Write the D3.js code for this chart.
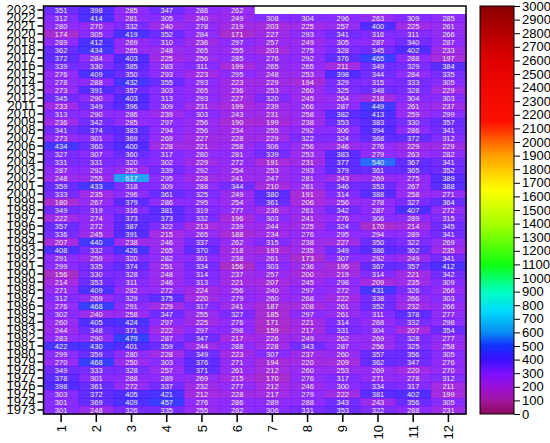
<!DOCTYPE html>
<html>
<head>
<meta charset="utf-8">
<title>Monthly heatmap</title>
<script src="https://d3js.org/d3.v7.min.js"></script>
<style>
  body { margin: 0; background: #fff; }
  text { font-family: "Liberation Sans", Arial, sans-serif; }
</style>
</head>
<body>
<div id="chart"></div>
<script>

const width = 550;
const height = 443;

// months along x
const months = ["1", "2", "3", "4", "5", "6", "7", "8", "9", "10", "11", "12"];

// years along y, top to bottom
const years = ["2023", "2022", "2021", "2020", "2019", "2018", "2017", "2016", "2015", "2014",
  "2013", "2012", "2011", "2010", "2009", "2008", "2007", "2006", "2005", "2004",
  "2003", "2002", "2001", "2000", "1999", "1998", "1997", "1996", "1995", "1994",
  "1993", "1992", "1991", "1990", "1989", "1988", "1987", "1986", "1985", "1984",
  "1983", "1982", "1981", "1980", "1979", "1978", "1977", "1976", "1975", "1974", "1973"];

// one row per year, same order as years
const values = [
  [351, 398, 285, 347, 286, 262, null, null, null, null, null, null],
  [312, 414, 281, 305, 240, 249, 308, 304, 296, 263, 309, 285],
  [280, 270, 332, 240, 278, 219, 203, 225, 257, 400, 225, 261],
  [174, 305, 419, 352, 284, 171, 227, 293, 341, 316, 311, 266],
  [289, 412, 269, 310, 236, 297, 257, 249, 305, 287, 340, 287],
  [362, 434, 265, 248, 265, 255, 203, 275, 328, 345, 402, 233],
  [372, 284, 403, 225, 256, 285, 276, 292, 376, 465, 288, 197],
  [339, 330, 385, 283, 311, 199, 265, 265, 211, 349, 329, 384],
  [276, 409, 350, 293, 223, 295, 248, 253, 398, 344, 284, 335],
  [278, 288, 432, 355, 293, 223, 229, 194, 329, 315, 333, 305],
  [273, 391, 357, 303, 265, 236, 253, 260, 325, 348, 328, 229],
  [345, 290, 403, 313, 293, 227, 320, 245, 264, 218, 304, 303],
  [233, 349, 396, 309, 231, 199, 239, 266, 287, 449, 261, 237],
  [313, 290, 286, 239, 303, 243, 231, 258, 382, 413, 259, 299],
  [236, 342, 285, 297, 256, 190, 199, 238, 353, 383, 330, 357],
  [341, 374, 383, 294, 256, 234, 255, 292, 306, 394, 286, 341],
  [273, 301, 369, 269, 227, 228, 229, 322, 324, 368, 372, 312],
  [434, 360, 400, 228, 221, 258, 306, 256, 246, 276, 229, 229],
  [327, 307, 360, 317, 280, 281, 339, 253, 383, 279, 263, 282],
  [331, 331, 320, 302, 229, 272, 191, 231, 377, 540, 367, 341],
  [287, 292, 252, 339, 292, 254, 253, 293, 379, 361, 365, 352],
  [248, 255, 617, 295, 228, 241, 247, 281, 243, 269, 275, 389],
  [359, 433, 318, 309, 288, 344, 210, 261, 346, 353, 267, 388],
  [333, 235, 296, 361, 325, 249, 380, 191, 314, 388, 258, 271],
  [180, 267, 379, 286, 295, 254, 361, 206, 256, 278, 327, 364],
  [349, 319, 316, 381, 319, 277, 236, 261, 342, 287, 407, 272],
  [222, 274, 373, 373, 332, 196, 303, 241, 276, 306, 289, 315],
  [357, 272, 387, 322, 213, 239, 244, 225, 324, 170, 214, 345],
  [336, 245, 391, 215, 265, 188, 234, 276, 295, 294, 289, 341],
  [207, 440, 238, 246, 337, 262, 315, 238, 227, 350, 322, 269],
  [408, 332, 426, 265, 370, 218, 193, 235, 349, 386, 362, 235],
  [291, 259, 320, 282, 301, 238, 261, 173, 307, 292, 249, 341],
  [299, 335, 374, 251, 334, 156, 303, 236, 195, 367, 357, 412],
  [156, 330, 328, 248, 314, 237, 257, 200, 219, 314, 221, 342],
  [214, 353, 311, 246, 313, 221, 207, 245, 298, 209, 235, 309],
  [271, 409, 282, 272, 224, 256, 240, 297, 272, 431, 326, 266],
  [312, 269, 329, 375, 220, 279, 260, 268, 222, 338, 266, 303],
  [276, 468, 291, 229, 317, 241, 187, 208, 261, 352, 232, 266],
  [302, 240, 258, 347, 255, 327, 185, 297, 261, 311, 378, 277],
  [260, 405, 424, 297, 225, 276, 171, 221, 314, 268, 332, 298],
  [244, 348, 371, 222, 297, 298, 159, 217, 331, 304, 207, 354],
  [283, 290, 479, 287, 347, 217, 226, 249, 262, 269, 328, 277],
  [422, 430, 401, 359, 244, 288, 228, 343, 287, 256, 325, 258],
  [299, 359, 280, 228, 349, 223, 307, 237, 260, 357, 356, 305],
  [270, 468, 250, 303, 376, 271, 194, 220, 209, 362, 347, 276],
  [349, 333, 328, 257, 371, 261, 212, 260, 253, 269, 220, 270],
  [378, 301, 288, 289, 269, 215, 170, 276, 317, 271, 278, 312],
  [398, 361, 272, 337, 232, 277, 212, 246, 300, 334, 317, 211],
  [303, 372, 405, 421, 212, 228, 217, 279, 222, 381, 402, 199],
  [301, 369, 409, 457, 276, 286, 289, 288, 343, 243, 356, 305],
  [301, 248, 326, 335, 255, 282, 306, 331, 353, 322, 288, 231]
];

// colour bar ticks
const barTicks = [0, 100, 200, 300, 400, 500, 600, 700, 800, 900, 1000, 1100, 1200, 1300, 1400,
  1500, 1600, 1700, 1800, 1900, 2000, 2100, 2200, 2300, 2400, 2500, 2600, 2700, 2800, 2900, 3000];

const colorStops = [0, 100, 200, 300, 400, 500, 600, 750, 900, 1100, 1400, 1650, 1900, 2150, 2600, 3000];
const colorRange = ["#8a0a5c", "#a1169f", "#9a10d8", "#7a10ff", "#3a10ff", "#1030ff", "#0a8cf0",
  "#00d8ff", "#00ffc0", "#10ff10", "#a8ff00", "#ffff00", "#ffa000", "#ff1000", "#e00000", "#8a0000"];

const color = d3.scaleLinear().domain(colorStops).range(colorRange);

const plot = { left: 43.5, right: 466, top: 6, bottom: 414 };

const svg = d3.select("#chart").append("svg").attr("width", width).attr("height", height);

const x = d3.scaleBand().domain(months).range([plot.left, plot.right]);
const y = d3.scaleBand().domain(years).range([plot.top, plot.bottom]);

const cells = [];
values.forEach((row, i) => row.forEach((v, j) => cells.push({ year: years[i], month: months[j], v: v })));

svg.append("g")
  .selectAll("rect")
  .data(cells)
  .enter().append("rect")
  .attr("x", d => x(d.month))
  .attr("y", d => y(d.year))
  .attr("width", x.bandwidth() + 0.5)
  .attr("height", y.bandwidth() + 0.5)
  .attr("fill", d => d.v == null ? "#fff" : color(d.v))
  .attr("fill-opacity", 0.88);

svg.append("g")
  .selectAll("text")
  .data(cells.filter(d => d.v != null))
  .enter().append("text")
  .attr("x", d => x(d.month) + x.bandwidth() / 2)
  .attr("y", d => y(d.year) + y.bandwidth() / 2)
  .attr("dy", "0.36em")
  .attr("text-anchor", "middle")
  .attr("font-size", "7.5px")
  .attr("fill", "#eee")
  .text(d => d.v);

// frame
svg.append("rect")
  .attr("x", plot.left).attr("y", plot.top)
  .attr("width", plot.right - plot.left).attr("height", plot.bottom - plot.top)
  .attr("fill", "none").attr("stroke", "#000").attr("stroke-width", 1.5);

// x axis
const xAxis = svg.append("g")
  .attr("transform", `translate(0,${plot.bottom})`)
  .call(d3.axisBottom(x).tickSize(8).tickPadding(3));
xAxis.select(".domain").remove();
xAxis.selectAll("line").attr("stroke-width", 1.5);
xAxis.selectAll("text")
  .attr("font-size", "13px")
  .attr("fill", "#000")
  .attr("transform", "rotate(-90)")
  .attr("text-anchor", "end")
  .attr("x", -11)
  .attr("y", 0)
  .attr("dy", "0.36em");

// y axis
const yAxis = svg.append("g")
  .attr("transform", `translate(${plot.left},0)`)
  .call(d3.axisLeft(y).tickSize(6).tickPadding(2));
yAxis.select(".domain").remove();
yAxis.selectAll("line").attr("stroke-width", 1.5);
yAxis.selectAll("text").attr("font-size", "13px").attr("fill", "#000");

// colour bar
const bar = { left: 480, right: 514, top: 6, bottom: 414 };
const cb = d3.scaleLinear().domain([0, 3000]).range([bar.bottom, bar.top]);

const grad = svg.append("defs").append("linearGradient")
  .attr("id", "cbar").attr("x1", 0).attr("y1", 1).attr("x2", 0).attr("y2", 0);
colorStops.forEach(s => {
  grad.append("stop").attr("offset", s / 3000).attr("stop-color", color(s));
});

svg.append("rect")
  .attr("x", bar.left).attr("y", bar.top)
  .attr("width", bar.right - bar.left).attr("height", bar.bottom - bar.top)
  .attr("fill", "url(#cbar)").attr("stroke", "#000").attr("stroke-width", 1);

const cAxis = svg.append("g")
  .attr("transform", `translate(${bar.right},0)`)
  .call(d3.axisRight(cb).tickValues(barTicks).tickSize(6).tickPadding(2).tickFormat(d3.format("d")));
cAxis.select(".domain").remove();
cAxis.selectAll("text").attr("font-size", "13px").attr("fill", "#000");

</script>
</body>
</html>
